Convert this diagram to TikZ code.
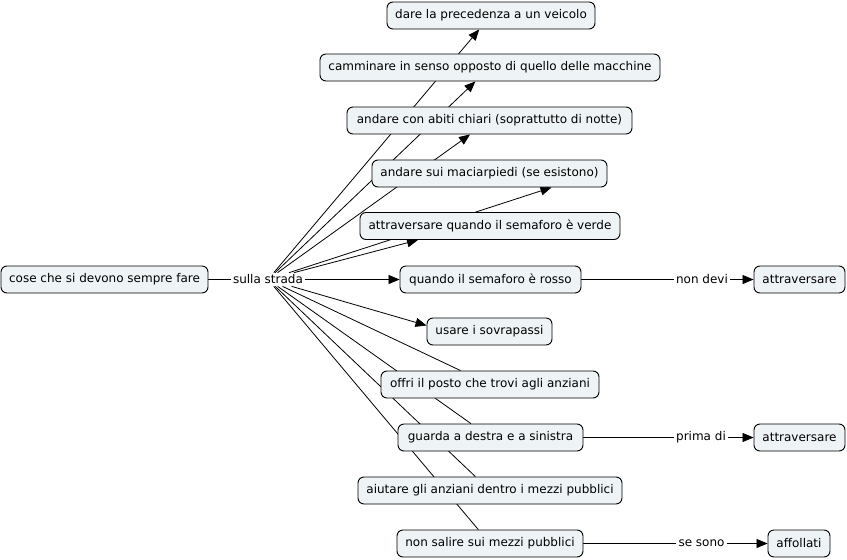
\documentclass[tikz,border=0pt]{standalone}
\usepackage{fontspec}
\setmainfont{DejaVu Sans}
\usetikzlibrary{arrows.meta,calc,backgrounds}
\definecolor{cfill}{RGB}{238,244,246}
\begin{document}
\begin{tikzpicture}[x=1pt,y=-1pt,
 concept/.style={draw=black, line width=0.9pt, fill=cfill, rounded corners=6pt, minimum height=27pt, inner sep=0pt, font=\fontsize{12}{14}\selectfont, text=black},
 lp/.style={inner sep=2pt, font=\fontsize{12}{14}\selectfont, text=black},
 conn/.style={draw=black, line width=0.8pt},
 arr/.style={conn, -{Triangle[length=11pt,width=9pt]}}]
\useasboundingbox (0,0) rectangle (847,560);
\node[concept, minimum width=208pt] (n1) at (491,15.5) {dare la precedenza a un veicolo};
\node[concept, minimum width=340pt] (n2) at (490,67.5) {camminare in senso opposto di quello delle macchine};
\node[concept, minimum width=285pt] (n3) at (489.5,120.5) {andare con abiti chiari (soprattutto di notte)};
\node[concept, minimum width=235pt] (n4) at (489.5,173.5) {andare sui maciarpiedi (se esistono)};
\node[concept, minimum width=260pt] (n5) at (490,226) {attraversare quando il semaforo è verde};
\node[concept, minimum width=181pt] (n6) at (490.5,279.5) {quando il semaforo è rosso};
\node[concept, minimum width=125pt] (n7) at (489.5,331.5) {usare i sovrapassi};
\node[concept, minimum width=218pt] (n8) at (490,384.5) {offri il posto che trovi agli anziani};
\node[concept, minimum width=185pt] (n9) at (490.5,437.5) {guarda a destra e a sinistra};
\node[concept, minimum width=264pt] (n10) at (490,490.5) {aiutare gli anziani dentro i mezzi pubblici};
\node[concept, minimum width=186pt] (n11) at (490,543.5) {non salire sui mezzi pubblici};
\node[concept, minimum width=207pt] (c) at (104.5,279.5) {cose che si devono sempre fare};
\node[lp] (s) at (268,279.5) {sulla strada};
\node[lp] (nd) at (702,279.5) {non devi};
\node[concept, minimum width=91pt] (a1) at (799.5,279.5) {attraversare};
\node[lp] (pd) at (701,437.5) {prima di};
\node[concept, minimum width=91pt] (a2) at (799.5,437.5) {attraversare};
\node[lp] (ss) at (701.5,543.5) {se sono};
\node[concept, minimum width=62pt] (af) at (799,543.5) {affollati};
\begin{scope}[on background layer]
\fill[white] (0,0) rectangle (847,560);
\draw[conn] (c) -- (s);
\draw[arr] (s) -- (n1);
\draw[arr] (s) -- (n2);
\draw[arr] (s) -- (n3);
\draw[arr] (s) -- ($(n4.south)+(62,0)$);
\draw[arr] (s) -- ($(n5.south)+(-72,0)$);
\draw[arr] (s) -- (n6);
\draw[arr] (s) -- ($(n7.west)+(0,-6)$);
\draw[conn] (s) -- (n8);
\draw[conn] (s) -- (n9);
\draw[conn] (s) -- (n10);
\draw[conn] (s) -- (n11);
\draw[conn] (n6) -- (nd);
\draw[arr] (nd) -- (a1);
\draw[conn] (n9) -- (pd);
\draw[arr] (pd) -- (a2);
\draw[conn] (n11) -- (ss);
\draw[arr] (ss) -- (af);
\end{scope}
\end{tikzpicture}
\end{document}
